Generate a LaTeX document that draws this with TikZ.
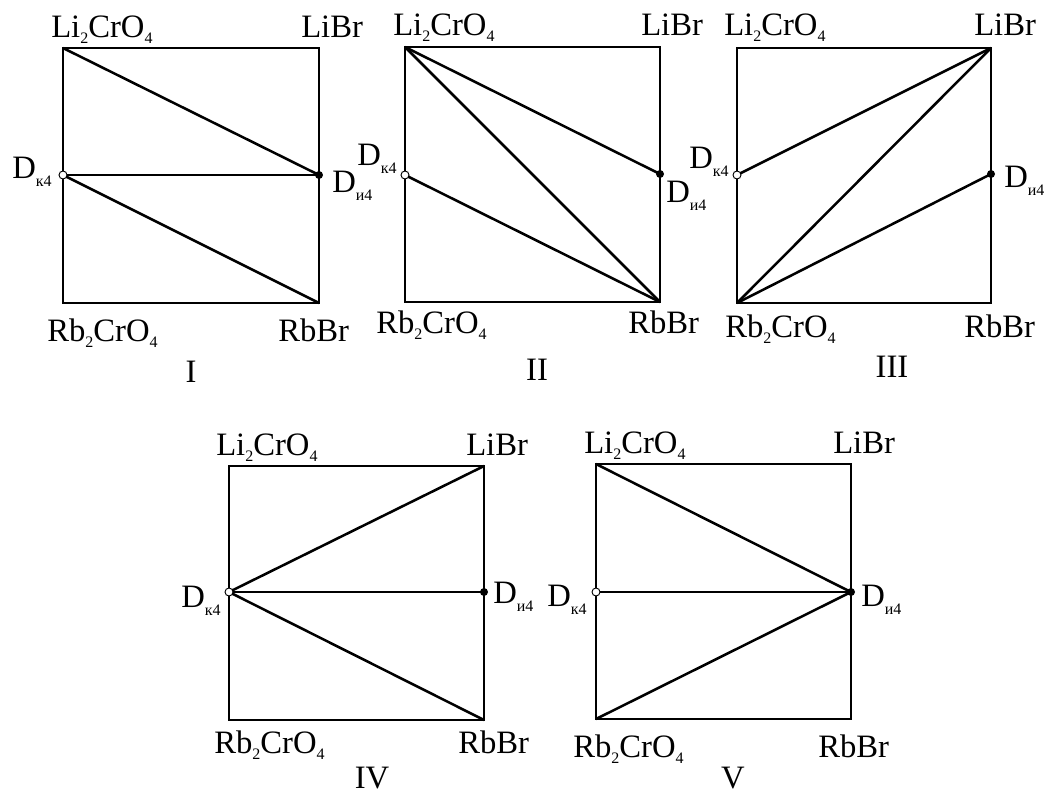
\documentclass[tikz,border=0pt]{standalone}
\usepackage{fontspec}
\setmainfont{Liberation Serif}
\usetikzlibrary{positioning}
\newcommand\ch[1]{\raisebox{-4.5pt}{\fontsize{12}{12}\selectfont #1}}
\newcommand\dsub[1]{\raisebox{-6pt}{\fontsize{12}{12}\selectfont #1}}

\begin{document}
\begin{tikzpicture}[x=0.75pt,y=-0.75pt,line width=1.9pt,
    lbl/.style={anchor=base west,inner sep=0pt,font=\fontsize{24.5}{28}\selectfont},
    num/.style={anchor=base,inner sep=0pt,font=\fontsize{24.5}{28}\selectfont},
    opendot/.style={draw,fill=white,line width=0.7pt},
    fulldot/.style={fill=black}]
\useasboundingbox (0,0) rectangle (1050,794);

% I
\coordinate (I-tl) at (63,48);
\coordinate (I-tr) at (319,48);
\coordinate (I-bl) at (63,303);
\coordinate (I-br) at (319,303);
\coordinate (I-dk) at (63,175);
\coordinate (I-di) at (319,175);
\draw (I-tl) rectangle (I-br);
\draw (I-tl) -- (I-di);
\draw (I-dk) -- (I-di);
\draw (I-dk) -- (I-br);
\draw[opendot] (I-dk) circle[radius=3pt];
\fill[fulldot] (I-di) circle[radius=3pt];
\node[lbl] (I-li) at (50,37) {Li\ch{2}CrO\ch{4}};
\node[lbl] (I-libr) at (300,37) {LiBr};
\node[lbl] (I-rb) at (46,341) {Rb\ch{2}CrO\ch{4}};
\node[lbl] (I-rbbr) at (277,341) {RbBr};
\node[lbl] (I-k) at (11,178) {D\dsub{к4}};
\node[lbl] (I-i) at (331,192) {D\dsub{и4}};
\node[num] (I-name) at (191,382) {I};

% II
\coordinate (II-tl) at (405,47);
\coordinate (II-tr) at (660,47);
\coordinate (II-bl) at (405,302);
\coordinate (II-br) at (660,302);
\coordinate (II-dk) at (405,175);
\coordinate (II-di) at (660,174);
\draw (II-tl) rectangle (II-br);
\draw (II-tl) -- (II-di);
\draw (II-tl) -- (II-br);
\draw (II-dk) -- (II-br);
\draw[opendot] (II-dk) circle[radius=3pt];
\fill[fulldot] (II-di) circle[radius=3pt];
\node[lbl] (II-li) at (392,35) {Li\ch{2}CrO\ch{4}};
\node[lbl] (II-libr) at (640,35) {LiBr};
\node[lbl] (II-rb) at (375,333) {Rb\ch{2}CrO\ch{4}};
\node[lbl] (II-rbbr) at (627,333) {RbBr};
\node[lbl] (II-k) at (356,165) {D\dsub{к4}};
\node[lbl] (II-i) at (665,202) {D\dsub{и4}};
\node[num] (II-name) at (537,380) {II};

% III
\coordinate (III-tl) at (737,48);
\coordinate (III-tr) at (991,48);
\coordinate (III-bl) at (737,303);
\coordinate (III-br) at (991,303);
\coordinate (III-dk) at (737,175);
\coordinate (III-di) at (991,174);
\draw (III-tl) rectangle (III-br);
\draw (III-dk) -- (III-tr);
\draw (III-bl) -- (III-tr);
\draw (III-bl) -- (III-di);
\draw[opendot] (III-dk) circle[radius=3pt];
\fill[fulldot] (III-di) circle[radius=3pt];
\node[lbl] (III-li) at (723,35) {Li\ch{2}CrO\ch{4}};
\node[lbl] (III-libr) at (973,35) {LiBr};
\node[lbl] (III-rb) at (724,337) {Rb\ch{2}CrO\ch{4}};
\node[lbl] (III-rbbr) at (963,337) {RbBr};
\node[lbl] (III-k) at (688,168) {D\dsub{к4}};
\node[lbl] (III-i) at (1003,187) {D\dsub{и4}};
\node[num] (III-name) at (892,377) {III};

% IV
\coordinate (IV-tl) at (229,466);
\coordinate (IV-tr) at (484,466);
\coordinate (IV-bl) at (229,720);
\coordinate (IV-br) at (484,720);
\coordinate (IV-dk) at (229,592);
\coordinate (IV-di) at (484,592);
\draw (IV-tl) rectangle (IV-br);
\draw (IV-dk) -- (IV-tr);
\draw (IV-dk) -- (IV-di);
\draw (IV-dk) -- (IV-br);
\draw[opendot] (IV-dk) circle[radius=3pt];
\fill[fulldot] (IV-di) circle[radius=3pt];
\node[lbl] (IV-li) at (215,455) {Li\ch{2}CrO\ch{4}};
\node[lbl] (IV-libr) at (465,455) {LiBr};
\node[lbl] (IV-rb) at (213,753) {Rb\ch{2}CrO\ch{4}};
\node[lbl] (IV-rbbr) at (457,753) {RbBr};
\node[lbl] (IV-k) at (180,607) {D\dsub{к4}};
\node[lbl] (IV-i) at (492,603) {D\dsub{и4}};
\node[num] (IV-name) at (372,788) {IV};

% V
\coordinate (V-tl) at (596,464);
\coordinate (V-tr) at (851,464);
\coordinate (V-bl) at (596,719);
\coordinate (V-br) at (851,719);
\coordinate (V-dk) at (596,592);
\coordinate (V-di) at (851,592);
\draw (V-tl) rectangle (V-br);
\draw (V-tl) -- (V-di);
\draw (V-dk) -- (V-di);
\draw (V-bl) -- (V-di);
\draw[opendot] (V-dk) circle[radius=3pt];
\fill[fulldot] (V-di) circle[radius=3pt];
\node[lbl] (V-li) at (583,453) {Li\ch{2}CrO\ch{4}};
\node[lbl] (V-libr) at (832,453) {LiBr};
\node[lbl] (V-rb) at (572,757) {Rb\ch{2}CrO\ch{4}};
\node[lbl] (V-rbbr) at (817,757) {RbBr};
\node[lbl] (V-k) at (546,606) {D\dsub{к4}};
\node[lbl] (V-i) at (860,606) {D\dsub{и4}};
\node[num] (V-name) at (733,788) {V};
\end{tikzpicture}
\end{document}
